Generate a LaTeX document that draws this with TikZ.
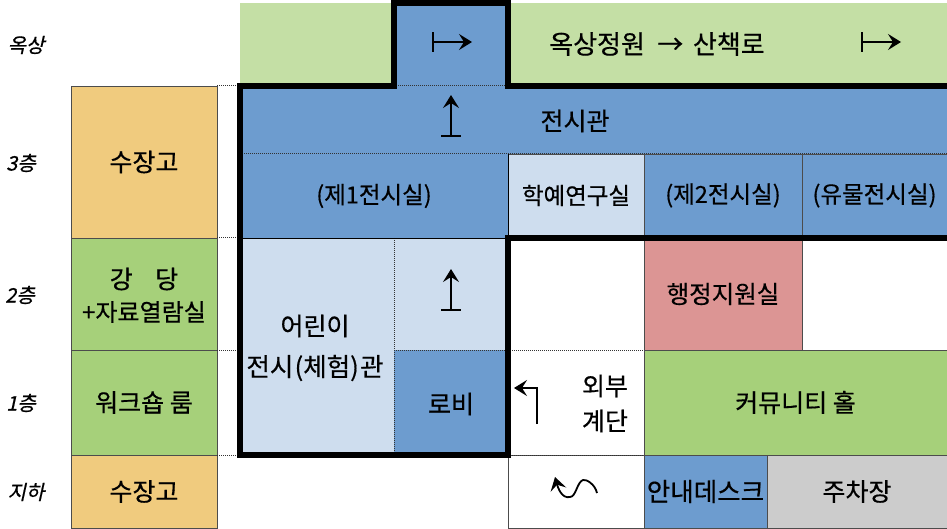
\documentclass[tikz,border=0pt]{standalone}
\usepackage{fontspec}
\setmainfont[FakeBold=0.5]{Noto Sans CJK KR}
\newfontfamily\slantkr[FakeSlant=0.22,FakeBold=0.6]{Noto Sans CJK KR}
\usetikzlibrary{arrows.meta}
\definecolor{cblue}{HTML}{6D9CCF}
\definecolor{clight}{HTML}{CEDDEE}
\definecolor{croof}{HTML}{C4DFA5}
\definecolor{cgreen}{HTML}{A6D07A}
\definecolor{corange}{HTML}{F0CB7E}
\definecolor{cpink}{HTML}{DC9594}
\definecolor{cgray}{HTML}{CCCCCC}
\newcommand{\dn}[1]{\raisebox{-1.5pt}{#1}}
\tikzset{
  room/.style={anchor=north west,inner sep=0pt,outer sep=0pt,draw=black!70,line width=0.9pt,align=center,font=\fontsize{25}{30}\selectfont},
  midroom/.style={room,font=\fontsize{23.5}{28}\selectfont},
  area/.style={anchor=north west,inner sep=0pt,outer sep=0pt,draw=none},
  big/.style={inner sep=0pt,font=\fontsize{25}{30}\selectfont},
  mid/.style={inner sep=0pt,font=\fontsize{24}{28}\selectfont},
  side/.style={inner sep=0pt,font=\slantkr\fontsize{20}{24}\selectfont},
  dots/.style={densely dotted,line width=1pt,black!80},
  wall/.style={line width=5.5pt,line join=miter,line cap=butt},
  walk/.style={line width=1.8pt,-{Stealth[length=13pt,width=16pt,inset=5pt]}},
  walkbar/.style={line width=1.8pt,{Bar[width=20pt,length=1.8pt]}-{Stealth[length=13pt,width=16pt,inset=5pt]}}
}
\begin{document}
\begin{tikzpicture}[x=1pt,y=-1pt]
\useasboundingbox (0,0) rectangle (947,529);
% roof and exhibition areas
\node[area,fill=croof,minimum width=707pt,minimum height=83pt] (roof) at (240,3) {};
\node[area,fill=cblue,minimum width=114pt,minimum height=83pt] (stair) at (394,3) {};
\node[area,fill=cblue,minimum width=707pt,minimum height=69pt] (hall) at (240,85) {};
\node[midroom,fill=cblue,draw=none,minimum width=268pt,minimum height=84pt] (first) at (240,154) {\dn{(제1전시실)}};
\node[midroom,fill=clight,minimum width=136pt,minimum height=83pt] (study) at (508,154) {\dn{학예연구실}};
\node[midroom,fill=cblue,minimum width=158pt,minimum height=83pt] (second) at (644,154) {\dn{(제2전시실)}};
\node[midroom,fill=cblue,minimum width=145pt,minimum height=83pt] (relic) at (802,154) {\dn{(유물전시실)}};
% children's hall
\node[area,fill=clight,minimum width=268pt,minimum height=217pt] (kids) at (240,238) {};
\node[area,fill=cblue,minimum width=114pt,minimum height=105pt] (lobby) at (394,350) {};
% left column
\node[room,fill=corange,minimum width=146pt,minimum height=152pt] (store3) at (71,86) {\dn{수장고}};
\node[room,fill=cgreen,minimum width=146pt,minimum height=112pt] (audi) at (71,238) {};
\node[room,fill=cgreen,minimum width=146pt,minimum height=105pt] (work) at (71,350) {\dn{워크숍 룸}};
\node[room,fill=corange,minimum width=146pt,minimum height=73pt] (storeb) at (71,455) {\dn{수장고}};
% right block
\node[room,fill=cpink,minimum width=158pt,minimum height=112pt,font=\fontsize{24.5}{28}\selectfont] (admin) at (644,238) {\dn{행정지원실}};
\node[room,fill=cgreen,minimum width=303pt,minimum height=105pt] (comm) at (644,350) {\dn{커뮤니티 홀}};
\node[room,fill=white,minimum width=136pt,minimum height=73pt] (entry) at (508,455) {};
\node[room,fill=cblue,minimum width=123pt,minimum height=73pt,font=\fontsize{25.5}{30}\selectfont] (desk) at (644,455) {\dn{안내데스크}};
\node[room,fill=cgray,minimum width=180pt,minimum height=73pt] (park) at (767,455) {\dn{주차장}};
% free labels
\node[big,font=\fontsize{26}{30}\selectfont] (tGarden) at (657,44) {옥상정원\hspace{0.25em} → \hspace{0.15em}산책로};
\node[big] (tHall) at (575,121) {전시관};
\node[big] (tAudi) at (144,279) {강\hspace{0.9em}당};
\node[mid] (tRead) at (144,312) {+자료열람실};
\node[big] (tKidsA) at (315,326) {어린이};
\node[big,font=\fontsize{25.5}{30}\selectfont] (tKidsB) at (315,368) {전시\hspace{0.05em}(체험)\hspace{0.05em}관};
\node[big] (tLobby) at (451,404) {로비};
\node[big] (tOutA) at (605,386) {외부};
\node[big] (tOutB) at (605,421) {계단};
\node[side] (fRoof) at (26,45) {옥상};
\node[side] (f3) at (21,163) {3층};
\node[side] (f2) at (20,295) {2층};
\node[side] (f1) at (21,403) {1층};
\node[side] (fB) at (26,492) {지하};
% dotted level lines
\coordinate (a1) at (217,86); \coordinate (a2) at (240,86);
\coordinate (a3) at (394,86); \coordinate (a4) at (508,86);
\coordinate (b1) at (240,154); \coordinate (b2) at (947,154);
\coordinate (c1) at (217,238); \coordinate (c2) at (240,238);
\coordinate (d1) at (217,350); \coordinate (d2) at (240,350);
\coordinate (d3) at (394,350); \coordinate (d4) at (644,350);
\coordinate (e1) at (217,455); \coordinate (e2) at (240,455);
\coordinate (e3) at (508,455); \coordinate (e4) at (644,455);
\coordinate (v1) at (394,238); \coordinate (v2) at (394,455);
\draw[dots] (a1)--(a2) (a3)--(a4) (b1)--(b2) (c1)--(c2) (d1)--(d2) (d3)--(d4) (e1)--(e2) (e3)--(e4) (v1)--(v2);
\draw[black,line width=0.9pt] (first.south west)--(first.south east) (first.south east)--(first.north east);
% thick walls
\coordinate (w1) at (240,455); \coordinate (w2) at (240,86);
\coordinate (w3) at (394,86); \coordinate (w4) at (394,3);
\coordinate (w5) at (508,3); \coordinate (w6) at (508,86);
\coordinate (w7) at (947,86);
\coordinate (w8) at (947,238); \coordinate (w9) at (508,238);
\coordinate (w10) at (508,455);
\draw[wall] (w7)--(w6)--(w5)--(w4)--(w3)--(w2)--(w1)--(w10)--(w9)--(w8);
% walking arrows
\coordinate (p1) at (432,42); \coordinate (p2) at (472,42);
\coordinate (p3) at (861,42); \coordinate (p4) at (901,42);
\coordinate (p5) at (451,137); \coordinate (p6) at (451,95);
\coordinate (p7) at (451,311); \coordinate (p8) at (451,269);
\coordinate (q1) at (537,424); \coordinate (q2) at (537,388); \coordinate (q3) at (514,388);
\coordinate (s1) at (597,493); \coordinate (s2) at (583,480); \coordinate (s3) at (570,497); \coordinate (s4) at (555,477);
\draw[walkbar] (p1)--(p2);
\draw[walkbar] (p3)--(p4);
\draw[walkbar] (p5)--(p6);
\draw[walkbar] (p7)--(p8);
\draw[walk] (q1)--(q2)--(q3);
\draw[walk] (s1) .. controls (595,484) and (586,479) .. (s2) .. controls (577,482) and (576,497) .. (s3) .. controls (562,499) and (558,488) .. (s4);
\end{tikzpicture}
\end{document}
